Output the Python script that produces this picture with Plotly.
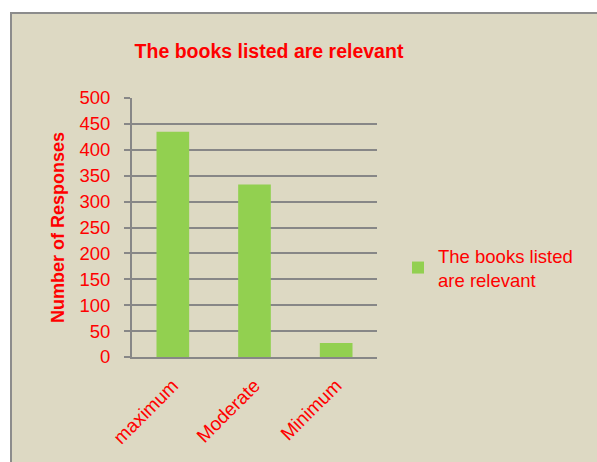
import plotly.graph_objects as go

categories = ["maximum", "Moderate", "Minimum"]
responses = [435, 333, 27]
series_name = "The books listed are relevant"

RED = "#FF0000"
GREEN = "#92D050"
BEIGE = "#DDD9C3"
GRID = "#878787"
FONT = "Liberation Sans"

fig = go.Figure()
fig.add_trace(go.Bar(
    x=categories, y=responses,
    marker=dict(color=GREEN, line=dict(width=0)),
    name="The books listed<br>are relevant",
    showlegend=True,
))

# plot area on screen x 132..377, y 98..357 (body margin removed below)
FW, FH = 597, 462
L, T = 132, 98
R, B = FW - 377, FH - 357
W, H = FW - L - R, FH - T - B

# beige chart frame behind the plot area
fig.add_shape(type="rect", xref="paper", yref="paper", layer="below",
              x0=(11 - L) / W, x1=(660 - L) / W,
              y0=(FH - B - 530) / H, y1=(FH - B - 13) / H,
              fillcolor=BEIGE, line=dict(color="#8C8C8C", width=2))

fig.update_layout(
    width=FW, height=FH,
    paper_bgcolor="white", plot_bgcolor="white",
    margin=dict(l=L, r=R, t=T, b=B),
    bargap=0.6,
    font=dict(family=FONT, color=RED, size=18),
    title=dict(text="<b>The books listed are relevant</b>", x=(269 - L) / W,
               xref="paper", xanchor="center", y=(FH - 51) / FH, yanchor="middle",
               font=dict(family=FONT, size=19.5, color=RED)),
    legend=dict(x=(398 - L) / W, y=(FH - B - 268) / H, xanchor="left", yanchor="middle",
                bgcolor="rgba(0,0,0,0)", font=dict(family=FONT, size=18.5, color=RED),
                itemwidth=30),
)
fig.update_yaxes(
    range=[0, 500], dtick=50, showgrid=True, gridcolor=GRID, gridwidth=1.5,
    showline=True, linecolor=GRID, linewidth=2,
    ticks="outside", ticklen=6, tickcolor=GRID, tickwidth=2,
    ticklabelstandoff=10,
    tickfont=dict(family=FONT, size=18.5, color=RED),
    title=dict(text="<b>Number of Responses</b>", standoff=10,
               font=dict(family=FONT, size=18, color=RED)),
    zeroline=False,
)
fig.update_xaxes(
    showline=True, linecolor=GRID, linewidth=2, ticks="",
    ticklabelstandoff=8,
    tickangle=-45, tickfont=dict(family=FONT, size=19, color=RED),
)

fig.write_html("out.html", config={"displayModeBar": False},
               post_script="document.body.style.margin='0';document.body.style.overflow='hidden';")
